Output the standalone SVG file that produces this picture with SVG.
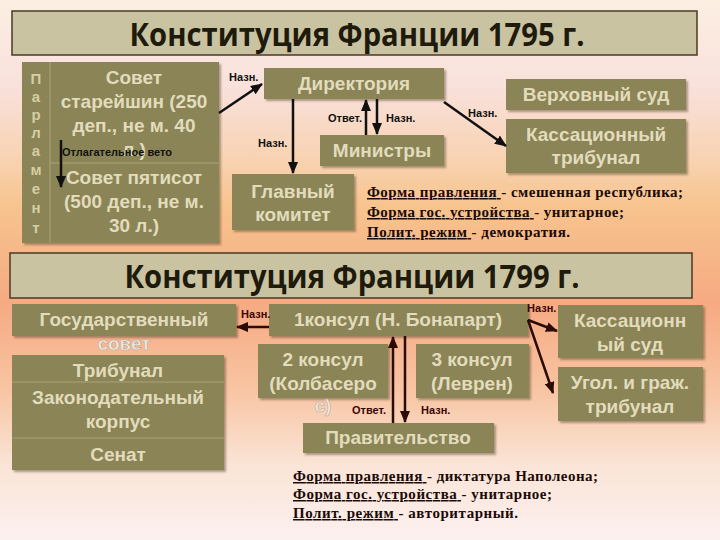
<svg xmlns="http://www.w3.org/2000/svg" width="720" height="540" viewBox="0 0 720 540">
<defs>
<linearGradient id="bg" x1="0" y1="0" x2="0" y2="1">
<stop offset="0" stop-color="#fcefe2"/>
<stop offset="0.16" stop-color="#f9e1dc"/>
<stop offset="0.3" stop-color="#f8d2b0"/>
<stop offset="0.38" stop-color="#f7c48e"/>
<stop offset="0.56" stop-color="#f6aa82"/>
<stop offset="0.72" stop-color="#f8c4a2"/>
<stop offset="0.86" stop-color="#fae4d6"/>
<stop offset="1" stop-color="#fcf0ef"/>
</linearGradient>
<filter id="sh" x="-10%" y="-10%" width="125%" height="130%">
<feDropShadow dx="2" dy="2" stdDeviation="1.2" flood-color="#4a3a20" flood-opacity="0.45"/>
</filter>
<marker id="ah" viewBox="0 0 12 10" refX="11" refY="5" markerWidth="12" markerHeight="10" markerUnits="userSpaceOnUse" orient="auto">
<path d="M0,0 L12,5 L0,10 z" fill="#111"/>
</marker>
<marker id="ahb" viewBox="0 0 12 10" refX="11" refY="5" markerWidth="12" markerHeight="10" markerUnits="userSpaceOnUse" orient="auto">
<path d="M0,0 L12,5 L0,10 z" fill="#2a0c04"/>
</marker>
</defs>
<style>
.title{fill:#c9c3a1;stroke:#4a3a26;stroke-width:1.5}
.tt{font-family:"Open Sans","Liberation Sans",sans-serif;font-weight:bold;font-size:32px;fill:#1e1a0c;text-anchor:middle}
.box{fill:#8a8456;filter:url(#sh)}
.div{stroke:#aaa37a;stroke-width:1}
.bt{font-family:"Liberation Sans",Arial,sans-serif;font-weight:bold;font-size:19px;fill:#e2dcbc;text-anchor:middle}
.ov{font-family:"Liberation Sans",Arial,sans-serif;font-weight:bold;font-size:19px;fill:#f2ece4;text-anchor:middle;stroke:#b8a898;stroke-width:0.6}
.vl{font-family:"Liberation Sans",Arial,sans-serif;font-weight:bold;font-size:15px;fill:#d6cea4;text-anchor:middle}
.lb{font-family:"Liberation Sans",Arial,sans-serif;font-weight:bold;font-size:11px;fill:#111}
.lb2{font-family:"Liberation Sans",Arial,sans-serif;font-weight:bold;font-size:11px;fill:#3a0606}
.ar{stroke:#111;stroke-width:2.5;fill:none;marker-end:url(#ah)}
.ar2{stroke:#2a0c04;stroke-width:2.5;fill:none;marker-end:url(#ahb)}
.ft{font-family:"Liberation Serif","Times New Roman",serif;font-weight:bold;font-size:15px;fill:#1a0a08}
</style>
<rect x="0" y="0" width="720" height="540" fill="url(#bg)"/>

<g id="title1795">
<rect class="title" x="12" y="11" width="685" height="44"/>
<text class="tt" x="357" y="46" textLength="455" lengthAdjust="spacingAndGlyphs">Конституция Франции 1795 г.</text>
</g>

<g id="parliament">
<rect class="box" x="22" y="62" width="197" height="181"/>
<line class="div" x1="50" y1="62" x2="50" y2="243"/>
<line class="div" x1="50" y1="163" x2="219" y2="163"/>
<text class="vl" x="36" y="84">П</text>
<text class="vl" x="36" y="102">а</text>
<text class="vl" x="36" y="120">р</text>
<text class="vl" x="36" y="138">л</text>
<text class="vl" x="36" y="156">а</text>
<text class="vl" x="36" y="175">м</text>
<text class="vl" x="36" y="194">е</text>
<text class="vl" x="36" y="213">н</text>
<text class="vl" x="36" y="233">т</text>
</g>
<g id="council-elders">
<text class="bt" x="134" y="84">Совет</text>
<text class="bt" x="134" y="108">старейшин (250</text>
<text class="bt" x="134" y="132">деп., не м. 40</text>
<text class="bt" x="134" y="156">л.)</text>
</g>
<g id="council-500">
<text class="bt" x="134" y="184">Совет пятисот</text>
<text class="bt" x="134" y="208">(500 деп., не м.</text>
<text class="bt" x="134" y="232">30 л.)</text>
</g>

<g id="directory">
<rect class="box" x="264" y="68" width="180" height="31"/>
<text class="bt" x="354" y="90">Директория</text>
</g>
<g id="main-committee">
<rect class="box" x="232" y="174" width="122" height="56"/>
<text class="bt" x="293" y="198">Главный</text>
<text class="bt" x="293" y="221">комитет</text>
</g>
<g id="ministers">
<rect class="box" x="320" y="135" width="124" height="31"/>
<text class="bt" x="382" y="157">Министры</text>
</g>
<g id="supreme-court">
<rect class="box" x="506" y="79" width="180" height="31"/>
<text class="bt" x="596" y="101">Верховный суд</text>
</g>
<g id="cassation-tribunal">
<rect class="box" x="506" y="119" width="180" height="54"/>
<text class="bt" x="596" y="141">Кассационный</text>
<text class="bt" x="596" y="164">трибунал</text>
</g>

<g id="summary1795">
<text class="ft" x="367" y="197" textLength="316" lengthAdjust="spacing"><tspan text-decoration="underline">Форма правления </tspan>- смешенная республика;</text>
<text class="ft" x="367" y="217" textLength="257" lengthAdjust="spacing"><tspan text-decoration="underline">Форма гос. устройства </tspan>- унитарное;</text>
<text class="ft" x="367" y="237" textLength="203" lengthAdjust="spacing"><tspan text-decoration="underline">Полит. режим </tspan>- демократия.</text>
</g>

<g id="title1799">
<rect class="title" x="10" y="253" width="682" height="45"/>
<text class="tt" x="352" y="288" textLength="455" lengthAdjust="spacingAndGlyphs">Конституция Франции 1799 г.</text>
</g>

<g id="state-council">
<rect class="box" x="12" y="304" width="224" height="32"/>
<text class="bt" x="124" y="326">Государственный</text>
<text class="ov" x="124" y="350">совет</text>
</g>
<g id="first-consul">
<rect class="box" x="269" y="304" width="259" height="32"/>
<text class="bt" x="398" y="326">1консул (Н. Бонапарт)</text>
</g>
<g id="legislature">
<rect class="box" x="12" y="355" width="212" height="115"/>
<line class="div" x1="12" y1="382" x2="224" y2="382"/>
<line class="div" x1="12" y1="438" x2="224" y2="438"/>
<text class="bt" x="118" y="377">Трибунал</text>
<text class="bt" x="118" y="404">Законодательный</text>
<text class="bt" x="118" y="428">корпус</text>
<text class="bt" x="118" y="461">Сенат</text>
</g>
<g id="second-consul">
<rect class="box" x="258" y="344" width="130" height="54"/>
<text class="bt" x="323" y="366">2 консул</text>
<text class="bt" x="323" y="390">(Колбасеро</text>
<text class="ov" x="323" y="412">с)</text>
</g>
<g id="third-consul">
<rect class="box" x="416" y="344" width="113" height="54"/>
<text class="bt" x="472" y="366">3 консул</text>
<text class="bt" x="472" y="390">(Леврен)</text>
</g>
<g id="government">
<rect class="box" x="303" y="423" width="191" height="30"/>
<text class="bt" x="398" y="444">Правительство</text>
</g>
<g id="cassation-court">
<rect class="box" x="558" y="305" width="145" height="53"/>
<text class="bt" x="630" y="327">Кассационн</text>
<text class="bt" x="630" y="351">ый суд</text>
</g>
<g id="criminal-civil-tribunal">
<rect class="box" x="558" y="367" width="145" height="54"/>
<text class="bt" x="630" y="389">Угол. и граж.</text>
<text class="bt" x="630" y="413">трибунал</text>
</g>

<g id="summary1799">
<text class="ft" x="293" y="481" textLength="305" lengthAdjust="spacing"><tspan text-decoration="underline">Форма правления </tspan>- диктатура Наполеона;</text>
<text class="ft" x="293" y="499" textLength="259" lengthAdjust="spacing"><tspan text-decoration="underline">Форма гос. устройства </tspan>- унитарное;</text>
<text class="ft" x="293" y="518" textLength="225" lengthAdjust="spacing"><tspan text-decoration="underline">Полит. режим </tspan>- авторитарный.</text>
</g>

<g id="connectors">
<line class="ar" x1="61" y1="140" x2="61" y2="187"/>
<text class="lb" x="62" y="156">Отлагательное вето</text>
<line class="ar" x1="219" y1="113" x2="262" y2="84"/>
<text class="lb" x="229" y="81">Назн.</text>
<line class="ar" x1="293" y1="99" x2="293" y2="173"/>
<text class="lb" x="258" y="147">Назн.</text>
<line class="ar" x1="366" y1="135" x2="366" y2="100"/>
<line class="ar" x1="377" y1="99" x2="377" y2="134"/>
<text class="lb" x="362" y="122" text-anchor="end">Ответ.</text>
<text class="lb" x="386" y="122">Назн.</text>
<line class="ar" x1="444" y1="102" x2="506" y2="146"/>
<text class="lb" x="468" y="117">Назн.</text>

<line class="ar2" x1="269" y1="327" x2="237" y2="327"/>
<text class="lb2" x="241" y="318">Назн.</text>
<line class="ar2" x1="393" y1="423" x2="393" y2="337"/>
<line class="ar2" x1="405" y1="336" x2="405" y2="422"/>
<text class="lb2" x="352" y="414" fill="#111">Ответ.</text>
<text class="lb2" x="421" y="414">Назн.</text>
<line class="ar2" x1="528" y1="320" x2="557" y2="331"/>
<line class="ar2" x1="528" y1="320" x2="553" y2="393"/>
<text class="lb2" x="527" y="312">Назн.</text>
</g>
</svg>
